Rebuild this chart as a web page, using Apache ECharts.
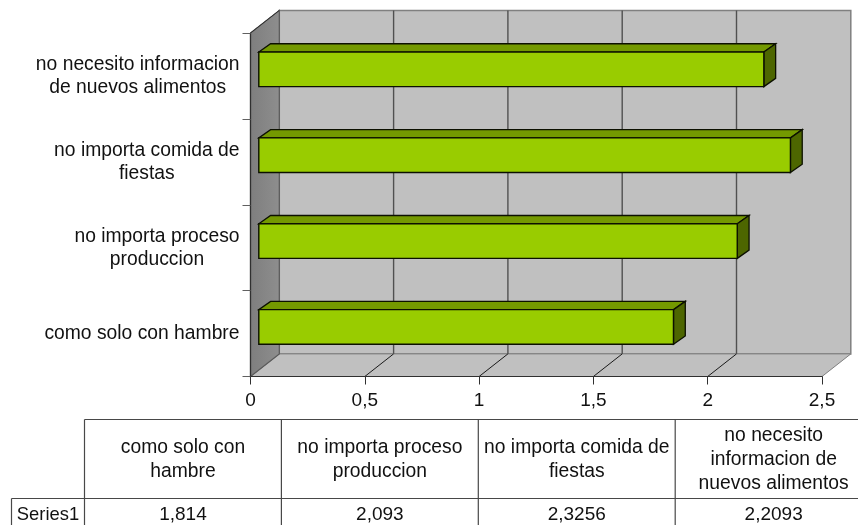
<!DOCTYPE html>
<html>
<head>
<meta charset="utf-8">
<style>html,body{margin:0;padding:0;background:#fff}#chart{width:858px;height:525px}</style>
<script src="https://cdn.jsdelivr.net/npm/echarts@6/dist/echarts.min.js"></script>
</head>
<body>
<div id="chart"></div>
<script>
// Survey answers, bottom row of the chart first
const axisCategories = [
  'como solo con hambre',
  'no importa proceso\nproduccion',
  'no importa comida de\nfiestas',
  'no necesito informacion\nde nuevos alimentos'
];
const tableHeaders = [
  'como solo con\nhambre',
  'no importa proceso\nproduccion',
  'no importa comida de\nfiestas',
  'no necesito\ninformacion de\nnuevos alimentos'
];
const seriesName = 'Series1';
const seriesValues = [1.814, 2.093, 2.3256, 2.2093];
const valueTicks = [0, 0.5, 1, 1.5, 2, 2.5];

const FONT = '"Liberation Sans", Arial, sans-serif';
const LABEL_SIZE = 19.3;
const NUMBER_SIZE = 19;
const ROW_NAME_SIZE = 18.4;

// Oblique projection of the box: full floor depth, then the bar's offset and its own depth
const DEPTH = [28.8, -22.6];
const BAR_NEAR = [8.3, -6.6];
const BAR_DEEP = [11.8, -8.3];
const BAR_THICKNESS = 0.403;

const comma = v => String(v).replace('.', ',');
const add = (p, d) => [p[0] + d[0], p[1] + d[1]];

// Width of the longest line, used to keep wrapped axis labels centred on each other
const measure = document.createElement('canvas').getContext('2d');
measure.font = LABEL_SIZE + 'px "Liberation Sans"';
const blockWidth = s => Math.max(...s.split('\n').map(l => measure.measureText(l).width));

function poly(points, fill, stroke, width, z2) {
  return {
    type: 'polygon', z2: z2 || 0,
    shape: { points },
    style: { fill: fill, stroke: stroke, lineWidth: width === undefined ? 1 : width }
  };
}
function seg(a, b, stroke, width, z2) {
  return {
    type: 'line', z2: z2 || 1,
    shape: { x1: a[0], y1: a[1], x2: b[0], y2: b[1] },
    style: { stroke, lineWidth: width, fill: null }
  };
}

// Walls, floor and gridlines of the box
function renderFrame(params, api) {
  const xMax = valueTicks[valueTicks.length - 1];
  const rows = axisCategories.length;
  const y0 = api.coord([0, 0])[1] + api.size([0, 1])[1] / 2;
  const yTop = y0 - api.size([0, 1])[1] * rows;
  const x0 = api.coord([0, 0])[0];
  const x1 = api.coord([xMax, 0])[0];
  const fl = [x0, y0], fr = [x1, y0], tl = [x0, yTop];
  const bl = add(fl, DEPTH), br = add(fr, DEPTH), btl = add(tl, DEPTH), btr = [br[0], btl[1]];
  const wall = {
    type: 'linear', x: 0, y: 0, x2: 1, y2: 0,
    colorStops: [{ offset: 0, color: '#7e7e7e' }, { offset: 1, color: '#8e8e8e' }]
  };
  const children = [
    poly([btl, btr, br, bl], '#c0c0c0', '#808080', 1.5),
    poly([fl, bl, br, fr], '#c0c0c0', '#808080', 1),
    poly([tl, btl, bl, fl], wall, '#5a5a5a', 1.2),
    seg(tl, btl, '#303030', 1)
  ];
  valueTicks.forEach((t, i) => {
    const f = [api.coord([t, 0])[0], y0];
    const b = add(f, DEPTH);
    if (i > 0 && i < valueTicks.length - 1) {
      children.push(seg(f, b, '#1a1a1a', 1));
      children.push(seg(b, [b[0], btl[1]], '#505050', 1.4));
    }
  });
  return { type: 'group', children };
}

// One bar as a front face with a top and an end face behind it
function renderBar(params, api) {
  const row = api.value(1);
  const end = api.coord([api.value(0), row]);
  const start = api.coord([0, row]);
  const h = api.size([0, 1])[1] * BAR_THICKNESS;
  const a = add([start[0], start[1] - h / 2], BAR_NEAR);
  const b = add([end[0], end[1] - h / 2], BAR_NEAR);
  const c = [b[0], b[1] + h];
  const d = [a[0], a[1] + h];
  const at = add(a, BAR_DEEP), bt = add(b, BAR_DEEP), ct = add(c, BAR_DEEP);
  return {
    type: 'group',
    children: [
      poly([a, b, bt, at], '#749900', '#0c1000', 1.3),
      poly([b, c, ct, bt], '#4d6600', '#0c1000', 1.3),
      poly([a, b, c, d], '#99cc00', '#0c1000', 1.4, 1)
    ]
  };
}

// Data table under the chart
const TABLE = { left: 84.5, rowLeft: 11.5, top: 419.5, split: 498.5, bottom: 525, colWidth: 196.9, right: 858 };
function tableGraphics() {
  const out = [];
  const line = (x1, y1, x2, y2) => out.push({
    type: 'line', silent: true,
    shape: { x1, y1, x2, y2 },
    style: { stroke: '#484848', lineWidth: 1.2 }
  });
  const text = (x, y, s, size) => out.push({
    type: 'text', silent: true, x, y,
    style: {
      text: s, x: 0, y: 0, align: 'center', verticalAlign: 'middle',
      fill: '#111', font: size + 'px ' + FONT, lineHeight: 23.7
    }
  });
  line(TABLE.left, TABLE.top, TABLE.right, TABLE.top);
  line(TABLE.rowLeft, TABLE.split, TABLE.right, TABLE.split);
  line(TABLE.rowLeft, TABLE.split, TABLE.rowLeft, TABLE.bottom);
  line(TABLE.left, TABLE.top, TABLE.left, TABLE.bottom);
  tableHeaders.forEach((h, i) => {
    const cx = TABLE.left + TABLE.colWidth * (i + 0.5);
    const rx = TABLE.left + TABLE.colWidth * (i + 1);
    if (rx < TABLE.right) line(rx, TABLE.top, rx, TABLE.bottom);
    text(cx, (TABLE.top + TABLE.split) / 2 + 0.5, h, LABEL_SIZE);
    text(cx, 515, comma(seriesValues[i]), NUMBER_SIZE);
  });
  text((TABLE.rowLeft + TABLE.left) / 2, 515, seriesName, ROW_NAME_SIZE);
  return out;
}

const chart = echarts.init(document.getElementById('chart'), null, { renderer: 'canvas' });
chart.setOption({
  animation: false,
  backgroundColor: '#fff',
  textStyle: { fontFamily: FONT },
  grid: { left: 250.5, top: 33, width: 571.5, height: 343.5, containLabel: false },
  xAxis: {
    type: 'value', min: 0, max: 2.5, interval: 0.5, z: 3,
    splitLine: { show: false },
    axisLine: { show: true, lineStyle: { color: '#303030', width: 1.2 } },
    axisTick: { show: true, length: 8, lineStyle: { color: '#303030', width: 1 } },
    axisLabel: {
      margin: 15, color: '#111', fontSize: NUMBER_SIZE, fontFamily: FONT,
      formatter: comma, hideOverlap: false, showMinLabel: true, showMaxLabel: true
    }
  },
  yAxis: {
    type: 'category', z: 3,
    data: axisCategories.map(c => ({
      value: c,
      textStyle: { align: 'center', padding: [0, blockWidth(c), 0, 0] }
    })),
    axisLine: { show: true, lineStyle: { color: '#303030', width: 1.2 } },
    axisTick: { show: true, length: 8, lineStyle: { color: '#606060', width: 1 } },
    axisLabel: {
      margin: 11, color: '#111', fontSize: LABEL_SIZE, fontFamily: FONT,
      lineHeight: 23, interval: 0, hideOverlap: false
    },
    splitLine: { show: false }
  },
  series: [
    {
      type: 'custom', name: 'frame', z: 1, silent: true, clip: false,
      coordinateSystem: 'cartesian2d',
      renderItem: renderFrame,
      encode: { x: 0, y: 1 },
      data: [[0, 0]]
    },
    {
      type: 'custom', name: seriesName, z: 4, silent: true, clip: false,
      coordinateSystem: 'cartesian2d',
      renderItem: renderBar,
      encode: { x: 0, y: 1 },
      data: seriesValues.map((v, i) => [v, i])
    }
  ],
  graphic: { elements: tableGraphics() }
});
</script>
</body>
</html>
